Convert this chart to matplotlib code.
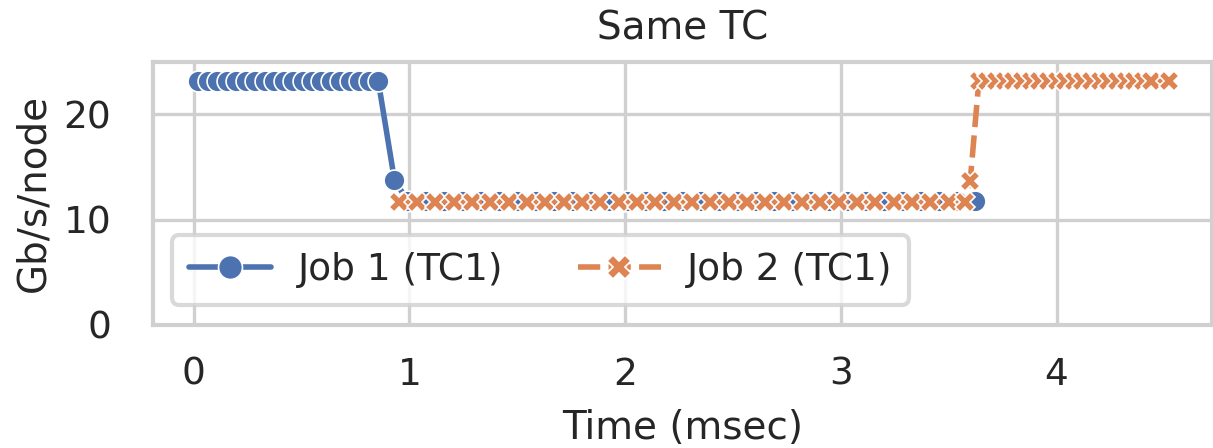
import numpy as np
import matplotlib
matplotlib.use("Agg")
from matplotlib import pyplot as plt
import seaborn as sns

# Job 1 (TC1): alone at first, then sharing the link with job 2
job1_time = [0.02, 0.064, 0.108, 0.152, 0.196, 0.24, 0.284, 0.328, 0.372, 0.416,
             0.46, 0.504, 0.548, 0.592, 0.636, 0.68, 0.724, 0.768, 0.812, 0.855,
             0.93,
             0.99, 1.075, 1.16, 1.245, 1.33, 1.415, 1.50, 1.585, 1.67, 1.755,
             1.84, 1.925, 2.01, 2.095, 2.18, 2.265, 2.35, 2.435, 2.52, 2.605,
             2.69, 2.775, 2.86, 2.945, 3.03, 3.115, 3.20, 3.285, 3.37, 3.455,
             3.54, 3.62]
job1_bw = [23.2] * 20 + [13.8] + [11.8] * 32

# Job 2 (TC1): starts when job 1 is running, finishes alone
job2_time = [0.95, 1.035, 1.12, 1.205, 1.29, 1.375, 1.46, 1.545, 1.63, 1.715,
             1.80, 1.885, 1.97, 2.055, 2.14, 2.225, 2.31, 2.395, 2.48, 2.565,
             2.65, 2.735, 2.82, 2.905, 2.99, 3.075, 3.16, 3.245, 3.33, 3.415,
             3.50, 3.575,
             3.60,
             3.64, 3.68, 3.72, 3.76, 3.80, 3.84, 3.88, 3.92, 3.96, 4.00,
             4.04, 4.08, 4.12, 4.16, 4.20, 4.24, 4.28, 4.32, 4.36, 4.40,
             4.44, 4.52]
job2_bw = [11.7] * 32 + [13.7] + [23.2] * 22

sns.set_theme(style="whitegrid")
plt.rcParams['font.family'] = ['DejaVu Sans']

colors = sns.color_palette()

fig, ax = plt.subplots(figsize=(12.13, 4.48), dpi=100)
fig.subplots_adjust(left=0.126, right=0.999, top=0.862, bottom=0.275)

ax.plot(job1_time, job1_bw, color=colors[0], lw=4, marker='o', markersize=15,
        markeredgecolor='white', markeredgewidth=1.2, label='Job 1 (TC1)')
ax.plot(job2_time, job2_bw, color=colors[1], lw=4, ls=(0, (4, 1.5)), marker='X',
        markersize=15, markeredgecolor='white', markeredgewidth=1.2,
        label='Job 2 (TC1)')

ax.set_xlim(-0.19, 4.72)
ax.set_ylim(0, 25)
ax.set_xticks([0, 1, 2, 3, 4])
ax.set_yticks([0, 10, 20])
ax.tick_params(axis='x', labelsize=27, pad=17)
ax.tick_params(axis='y', labelsize=27, pad=24)
ax.grid(True, lw=2.4, color='#d0d0d0')
for s in ax.spines.values():
    s.set_linewidth(3)
    s.set_color('#d0d0d0')

ax.set_xlabel('Time (msec)', fontsize=28, labelpad=12)
ax.set_ylabel('Gb/s/node', fontsize=28, labelpad=8)
ax.set_title('Same TC', fontsize=28, pad=16)

leg = ax.legend(loc='lower left', ncol=2, fontsize=27, frameon=True,
                bbox_to_anchor=(0.018, 0.076), borderaxespad=0,
                columnspacing=2.0, handlelength=2.2, markerscale=1.15,
                borderpad=0.45, handletextpad=0.7)
leg.get_frame().set_linewidth(3)
leg.get_frame().set_edgecolor('#d0d0d0')

plt.savefig('out.png', dpi=100)
